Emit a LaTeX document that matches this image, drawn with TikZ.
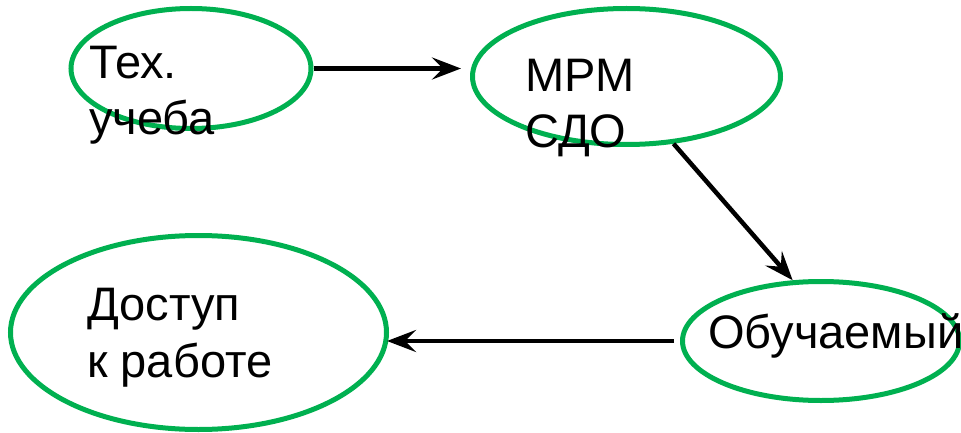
\documentclass[tikz,border=0pt]{standalone}
\usepackage{fontspec}
\setmainfont{Liberation Sans}
\usetikzlibrary{shapes.geometric,arrows.meta}

\definecolor{ovalgreen}{HTML}{00B050}

\tikzset{
  oval/.style={ellipse, draw=ovalgreen, line width=5pt, inner sep=0pt},
  lbl/.style={anchor=base west, align=left, inner sep=0pt,
    font=\fontsize{47}{56.5}\selectfont},
  arr/.style={line width=4.5pt, -{Stealth[length=29pt,width=22pt,inset=11pt]}}
}

\begin{document}
\begin{tikzpicture}[x=1pt,y=-1pt]

    \clip (0,0) rectangle (961,433);

    % these are the ovals
    \node[oval, minimum width=240pt, minimum height=120pt] (tech) at (191,68.5) {};
    \node[oval, minimum width=308pt, minimum height=136pt] (mrm) at (626.5,76.5) {};
    \node[oval, minimum width=376pt, minimum height=194pt] (access) at (198.5,332.5) {};
    \node[oval, minimum width=277pt, minimum height=119pt] (trainee) at (821,341) {};

    % these are the texts (base = last line)
    \node[lbl] (techtxt) at (89,135) {Тех.\\учеба};
    \node[lbl] (mrmtxt) at (525,148) {МРМ\\СДО};
    \node[lbl] (accesstxt) at (87,377) {Доступ\\к работе};
    \node[lbl] (traineetxt) at (708,348) {Обучаемый};

    \draw[arr, shorten >=9pt] (tech.east) -- (tech.east -| mrm.west);
    \draw[arr] (mrm.-55) -- (trainee.115);
    \draw[arr, shorten <=6pt, shorten >=-2pt] (trainee.west) -- (trainee.west -| access.east);

\end{tikzpicture}
\end{document}
